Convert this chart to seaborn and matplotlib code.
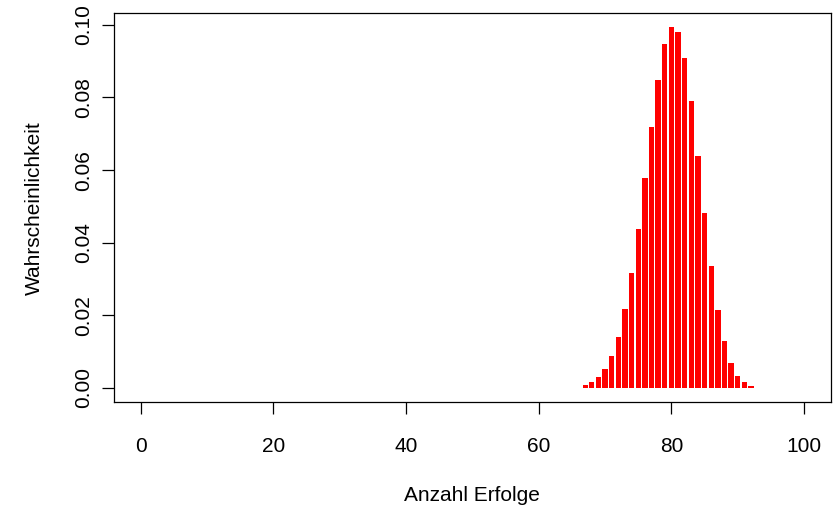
import matplotlib
matplotlib.use("Agg")
import matplotlib.pyplot as plt
import seaborn as sns
import pandas as pd

# Anzahl Erfolge (k) und Wahrscheinlichkeit
erfolge = list(range(67, 93))
wahrscheinlichkeit = [
    0.0008, 0.0016, 0.0029, 0.0052, 0.0088, 0.0141, 0.0217,
    0.0316, 0.0439, 0.0577, 0.0720, 0.0849, 0.0946, 0.0993, 0.0981,
    0.0909, 0.0789, 0.0638, 0.0481, 0.0335, 0.0216, 0.0128, 0.0069,
    0.0034, 0.0015, 0.0006,
]
xticks = [0, 20, 40, 60, 80, 100]
yticks = [0.00, 0.02, 0.04, 0.06, 0.08, 0.10]

sns.set_theme(style="ticks")
plt.rcParams["font.family"] = ["Liberation Sans", "DejaVu Sans"]

df = pd.DataFrame({"k": erfolge, "p": wahrscheinlichkeit})

fig = plt.figure(figsize=(8.33, 5.12), dpi=100)
ax = fig.add_axes([0.1369, 0.2142, 0.8603, 0.7604])

sns.barplot(data=df, x="k", y="p", native_scale=True, color="red",
            saturation=1, width=0.8, errorbar=None, linewidth=0, ax=ax)

ax.set_xlim(-4, 104)
ax.set_ylim(-0.00397, 0.10327)
ax.set_xticks(xticks)
ax.set_xticklabels([str(t) for t in xticks])
ax.set_yticks(yticks)
ax.set_yticklabels(["%.2f" % t for t in yticks], rotation=90, va="center")

for s in ax.spines.values():
    s.set_visible(True)
    s.set_linewidth(0.9)
    s.set_color("black")

ax.tick_params(axis="both", length=8.5, width=0.9, color="black",
               labelsize=15, labelcolor="black")
ax.tick_params(axis="x", pad=16.5)
ax.tick_params(axis="y", pad=6.5)

ax.set_xlabel("Anzahl Erfolge", fontsize=15, labelpad=21.5, color="black")
ax.set_ylabel("Wahrscheinlichkeit", fontsize=15, labelpad=22, color="black")

fig.savefig("out.png", dpi=100, facecolor="white")
